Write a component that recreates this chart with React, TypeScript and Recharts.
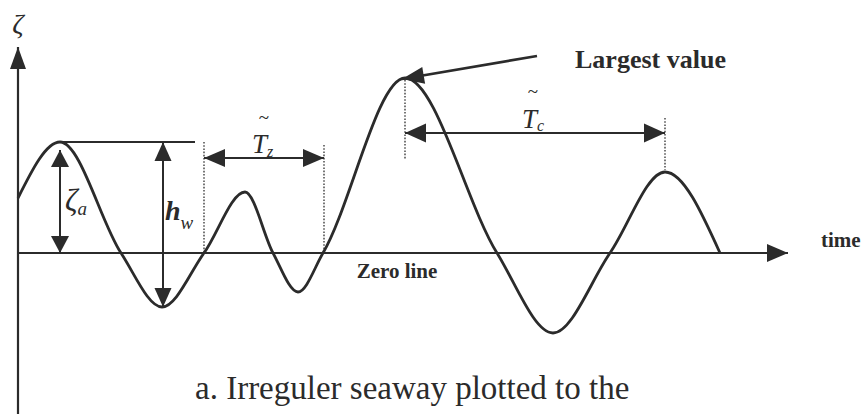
import type { ReactNode } from 'react';
import { ComposedChart, Line, XAxis, YAxis, ReferenceLine, ReferenceDot } from 'recharts';

// wave record: time (zero crossings and crests/troughs) and surface elevation
const waveTime = [0, 4.2, 10.3, 14.4, 18.6, 22.7, 25.5, 28.0, 30.5, 38.7, 47.9, 53.5, 59.2, 64.7, 70.2];
const waveElevation = [5.5, 11.1, 0, -5.4, 0, 6.1, 0, -3.9, 0, 17.5, 0, -8.0, 0, 8.1, 0];

// axis extents
const timeAxisEnd = 77;
const elevationAxisTop = 20.6;
const elevationAxisBottom = -16.1;

// reading of the wave parameters
const firstCrest = { t: 4.2, z: 11.1 };
const firstTrough = { t: 14.5, z: -5.4 };
const amplitudeTop = 10.3;
const crestLineEnd = 17.7;
const zeroUpCrossings = [18.6, 30.6];
const zeroPeriodLevel = 9.5;
const crestPeriodStart = { t: 38.7, top: 17.3, bottom: 9.3 };
const crestPeriodEnd = { t: 64.7, top: 13.5, bottom: 8.3 };
const crestPeriodLevel = 12.0;
const largestPointer = { from: { t: 51.9, z: 19.7 }, to: { t: 38.4, z: 17.4 } };

const waveData = waveTime.map((t, i) => ({ t, z: waveElevation[i] }));

const INK = '#2b2b2b';
const SERIF = '"Liberation Serif", "Times New Roman", serif';

type ArrowOpts = { start?: boolean; end?: boolean; len?: number; wide?: number; width?: number };

function head(tx: number, ty: number, fx: number, fy: number, len: number, wide: number) {
  const dx = tx - fx;
  const dy = ty - fy;
  const d = Math.hypot(dx, dy) || 1;
  const ux = dx / d;
  const uy = dy / d;
  const bx = tx - ux * len;
  const by = ty - uy * len;
  const nx = -uy * (wide / 2);
  const ny = ux * (wide / 2);
  return `${tx},${ty} ${bx + nx},${by + ny} ${bx - nx},${by - ny}`;
}

function arrow({ start = false, end = true, len = 20, wide = 16, width = 2 }: ArrowOpts) {
  return (p: any) => {
    const { x1, y1, x2, y2 } = p;
    return (
      <g>
        <line x1={x1} y1={y1} x2={x2} y2={y2} stroke={INK} strokeWidth={width} />
        {start && <polygon points={head(x1, y1, x2, y2, len, wide)} fill={INK} />}
        {end && <polygon points={head(x2, y2, x1, y1, len, wide)} fill={INK} />}
      </g>
    );
  };
}

const dotted = (p: any) => (
  <line x1={p.x1} y1={p.y1} x2={p.x2} y2={p.y2} stroke="#555" strokeWidth={1.6} strokeDasharray="1.6 1.6" />
);

function textAt(content: ReactNode, style: Record<string, unknown>) {
  return (p: any) => (
    <text x={p.cx} y={p.cy} fill={INK} fontFamily={SERIF} {...style}>
      {content}
    </text>
  );
}

export default function App() {
  return (
    <div style={{ position: 'absolute', left: 0, top: 0, width: 863, height: 414, background: '#fff' }}>
      <ComposedChart width={863} height={414} data={waveData} margin={{ top: 0, right: 0, bottom: 0, left: 0 }}>
        <XAxis type="number" dataKey="t" domain={[-1.8, 84.5]} hide allowDataOverflow />
        <YAxis type="number" domain={[elevationAxisBottom, 25.3]} hide allowDataOverflow />

        {/* axes */}
        <ReferenceLine
          segment={[{ x: 0, y: elevationAxisBottom }, { x: 0, y: elevationAxisTop }]}
          shape={arrow({ len: 22, wide: 16, width: 2.2 })}
        />
        <ReferenceLine
          segment={[{ x: 0, y: 0 }, { x: timeAxisEnd, y: 0 }]}
          shape={arrow({ len: 21, wide: 18, width: 2.2 })}
        />

        {/* crest level and amplitude / height markers */}
        <ReferenceLine
          segment={[{ x: firstCrest.t, y: firstCrest.z }, { x: crestLineEnd, y: firstCrest.z }]}
          shape={arrow({ end: false, width: 2.2 })}
        />
        <ReferenceLine
          segment={[{ x: firstCrest.t, y: amplitudeTop }, { x: firstCrest.t, y: 0 }]}
          shape={arrow({ start: true, len: 17, wide: 18, width: 2 })}
        />
        <ReferenceLine
          segment={[{ x: firstTrough.t, y: firstCrest.z }, { x: firstTrough.t, y: firstTrough.z }]}
          shape={arrow({ start: true, len: 19, wide: 17, width: 2 })}
        />

        {/* zero up-crossing period */}
        <ReferenceLine segment={[{ x: zeroUpCrossings[0], y: firstCrest.z }, { x: zeroUpCrossings[0], y: 0 }]} shape={dotted} />
        <ReferenceLine segment={[{ x: zeroUpCrossings[1], y: 10.8 }, { x: zeroUpCrossings[1], y: 0 }]} shape={dotted} />
        <ReferenceLine
          segment={[{ x: zeroUpCrossings[0], y: zeroPeriodLevel }, { x: zeroUpCrossings[1], y: zeroPeriodLevel }]}
          shape={arrow({ start: true, len: 21, wide: 18, width: 2.2 })}
        />

        {/* crest period */}
        <ReferenceLine
          segment={[{ x: crestPeriodStart.t, y: crestPeriodStart.top }, { x: crestPeriodStart.t, y: crestPeriodStart.bottom }]}
          shape={dotted}
        />
        <ReferenceLine
          segment={[{ x: crestPeriodEnd.t, y: crestPeriodEnd.top }, { x: crestPeriodEnd.t, y: crestPeriodEnd.bottom }]}
          shape={dotted}
        />
        <ReferenceLine
          segment={[{ x: crestPeriodStart.t, y: crestPeriodLevel }, { x: crestPeriodEnd.t, y: crestPeriodLevel }]}
          shape={arrow({ start: true, len: 21, wide: 19, width: 2.2 })}
        />

        {/* pointer to the largest crest */}
        <ReferenceLine
          segment={[
            { x: largestPointer.from.t, y: largestPointer.from.z },
            { x: largestPointer.to.t, y: largestPointer.to.z },
          ]}
          shape={arrow({ len: 22, wide: 17, width: 2.6 })}
        />

        <Line
          type="monotone"
          dataKey="z"
          stroke={INK}
          strokeWidth={2.8}
          dot={false}
          activeDot={false}
          isAnimationActive={false}
        />

        {/* labels */}
        <ReferenceDot x={0} y={22.0} shape={textAt('ζ', { fontSize: 28, fontStyle: 'italic', textAnchor: 'middle' })} />
        <ReferenceDot
          x={4.7}
          y={4.2}
          shape={textAt(
            <>
              <tspan>ζ</tspan>
              <tspan fontSize={19} dy={4}>a</tspan>
            </>,
            { fontSize: 31, fontStyle: 'italic' },
          )}
        />
        <ReferenceDot
          x={14.7}
          y={3.3}
          shape={textAt(
            <>
              <tspan fontWeight="bold">h</tspan>
              <tspan fontSize={19} dy={9}>w</tspan>
            </>,
            { fontSize: 28, fontStyle: 'italic' },
          )}
        />
        <ReferenceDot x={24.6} y={12.9} shape={textAt('~', { fontSize: 19, textAnchor: 'middle' })} />
        <ReferenceDot
          x={23.4}
          y={10.0}
          shape={textAt(
            <>
              <tspan>T</tspan>
              <tspan fontSize={16} dy={4}>z</tspan>
            </>,
            { fontSize: 27, fontStyle: 'italic' },
          )}
        />
        <ReferenceDot x={51.5} y={15.5} shape={textAt('~', { fontSize: 19, textAnchor: 'middle' })} />
        <ReferenceDot
          x={50.4}
          y={12.5}
          shape={textAt(
            <>
              <tspan>T</tspan>
              <tspan fontSize={16} dy={3}>c</tspan>
            </>,
            { fontSize: 27, fontStyle: 'italic' },
          )}
        />
        <ReferenceDot x={55.7} y={18.5} shape={textAt('Largest value', { fontSize: 26, fontWeight: 'bold' })} />
        <ReferenceDot x={80.3} y={0.6} shape={textAt('time', { fontSize: 21, fontWeight: 'bold' })} />
        <ReferenceDot x={37.9} y={-2.5} shape={textAt('Zero line', { fontSize: 21, fontWeight: 'bold', textAnchor: 'middle' })} />
        <ReferenceDot
          x={17.7}
          y={-14.6}
          shape={textAt('a. Irreguler seaway plotted to the', { fontSize: 33 })}
        />
      </ComposedChart>
    </div>
  );
}
